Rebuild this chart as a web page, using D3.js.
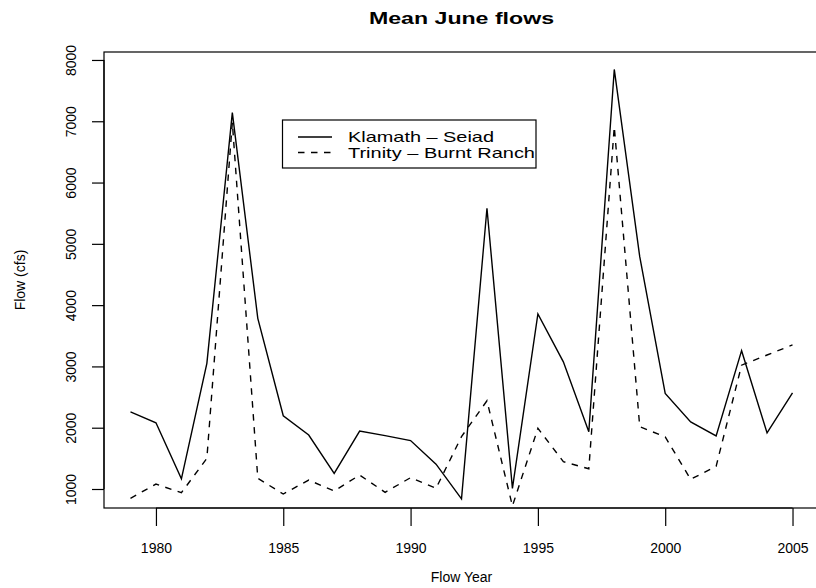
<!DOCTYPE html>
<html>
<head>
<meta charset="utf-8">
<script src="https://cdn.jsdelivr.net/npm/d3@7"></script>
<style>
  html, body { margin: 0; padding: 0; background: #fff; }
  svg { display: block; }
  text { font-family: "Liberation Sans", Arial, Helvetica, sans-serif; fill: #000; }
</style>
</head>
<body>
<svg id="chart" width="816" height="588"></svg>
<script>
// ---- data ----
const years = [1979,1980,1981,1982,1983,1984,1985,1986,1987,1988,1989,1990,1991,1992,1993,1994,1995,1996,1997,1998,1999,2000,2001,2002,2003,2004,2005];
const klamath = [2260,2080,1165,3050,7140,3785,2195,1880,1255,1945,1870,1790,1405,840,5580,1010,3855,3075,1935,7845,4790,2560,2095,1865,3257,1915,2570];
const trinity = [848,1080,940,1500,6980,1175,918,1145,967,1228,946,1185,1011,1855,2440,723,1990,1446,1330,6910,2017,1850,1158,1370,3020,3186,3350];
const xTicks = [1980,1985,1990,1995,2000,2005];
const yTicks = [1000,2000,3000,4000,5000,6000,7000,8000];
const seriesNames = ["Klamath \u2013 Seiad", "Trinity \u2013 Burnt Ranch"];
const titleText = "Mean June flows";
const xLabel = "Flow Year";
const yLabel = "Flow (cfs)";

// ---- layout ----
const svg = d3.select("#chart");
const plot = {left: 104, right: 819, top: 52, bottom: 508};
const x = d3.scaleLinear().domain([1977.96, 2006.04]).range([plot.left, plot.right]);
const y = d3.scaleLinear().domain([690, 8130]).range([plot.bottom, plot.top]);

svg.append("defs").append("clipPath").attr("id", "clip")
  .append("rect").attr("x", plot.left).attr("y", plot.top)
  .attr("width", plot.right - plot.left).attr("height", plot.bottom - plot.top);

// box
svg.append("rect")
  .attr("x", plot.left).attr("y", plot.top)
  .attr("width", plot.right - plot.left).attr("height", plot.bottom - plot.top)
  .attr("fill", "none").attr("stroke", "#000").attr("stroke-width", 1.2);

// axes
const xAxis = d3.axisBottom(x).tickValues(xTicks).tickFormat(d3.format("d")).tickSize(18).tickPadding(17);
const gx = svg.append("g").attr("transform", `translate(0,${plot.bottom})`).call(xAxis);
gx.select(".domain").attr("d", `M${x(xTicks[0])},0H${x(xTicks[xTicks.length-1])}`).attr("stroke-width", 1.2);
gx.selectAll(".tick line").attr("stroke-width", 1.2);
gx.selectAll(".tick text").attr("font-size", 14).attr("font-family", "Liberation Sans, Arial, sans-serif");

const yAxis = d3.axisLeft(y).tickValues(yTicks).tickFormat(d3.format("d")).tickSize(12).tickPadding(0);
const gy = svg.append("g").attr("transform", `translate(${plot.left},0)`).call(yAxis);
gy.select(".domain").attr("d", `M0,${y(yTicks[0])}V${y(yTicks[yTicks.length-1])}`).attr("stroke-width", 1.2);
gy.selectAll(".tick line").attr("stroke-width", 1.2);
gy.selectAll(".tick text")
  .attr("font-size", 14).attr("font-family", "Liberation Sans, Arial, sans-serif")
  .attr("x", 0).attr("dy", null)
  .attr("text-anchor", "middle")
  .attr("transform", "translate(-28,0) rotate(-90)");

// lines
const line = d3.line().x((d, i) => x(years[i])).y(d => y(d));
const g = svg.append("g").attr("clip-path", "url(#clip)");
g.append("path").datum(klamath).attr("d", line)
  .attr("fill", "none").attr("stroke", "#000").attr("stroke-width", 1.4);
g.append("path").datum(trinity).attr("d", line)
  .attr("fill", "none").attr("stroke", "#000").attr("stroke-width", 1.4)
  .attr("stroke-dasharray", "6.5,6.5");

// legend
const lg = svg.append("g");
lg.append("rect").attr("x", 282.5).attr("y", 120).attr("width", 253.5).attr("height", 48)
  .attr("fill", "#fff").attr("stroke", "#000").attr("stroke-width", 1.2);
const dashes = [null, "6.5,6.5"];
const legendWidths = [146, 187];
seriesNames.forEach((name, i) => {
  const yy = 137 + i * 15.5;
  lg.append("line").attr("x1", 298).attr("x2", 332).attr("y1", yy).attr("y2", yy)
    .attr("stroke", "#000").attr("stroke-width", 1.4)
    .attr("stroke-dasharray", dashes[i]);
  lg.append("text").attr("x", 348).attr("y", yy + 5).attr("font-size", 15)
    .attr("textLength", legendWidths[i]).attr("lengthAdjust", "spacingAndGlyphs").text(name);
});

// titles
svg.append("text").attr("x", (plot.left + plot.right) / 2).attr("y", 24)
  .attr("text-anchor", "middle").attr("font-size", 16).attr("font-weight", "bold")
  .attr("textLength", 185).attr("lengthAdjust", "spacingAndGlyphs").text(titleText);
svg.append("text").attr("x", (plot.left + plot.right) / 2).attr("y", 582)
  .attr("text-anchor", "middle").attr("font-size", 14).text(xLabel);
svg.append("text").attr("transform", `translate(25,${(plot.top + plot.bottom) / 2}) rotate(-90)`)
  .attr("text-anchor", "middle").attr("font-size", 14).text(yLabel);
</script>
</body>
</html>
